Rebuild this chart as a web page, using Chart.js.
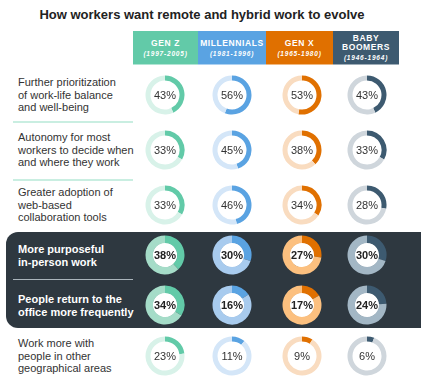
<!DOCTYPE html>
<html>
<head>
<meta charset="utf-8">
<script src="https://cdn.jsdelivr.net/npm/chart.js@4.4.0/dist/chart.umd.min.js"></script>
<style>
  body { margin: 0; width: 421px; height: 385px; background: #fff; font-family: "Liberation Sans", Arial, sans-serif; position: relative; overflow: hidden; }
  .title { position: absolute; top: 7px; left: 0; width: 404px; text-align: center; font-weight: bold; font-size: 13px; color: #222; }
  .head { position: absolute; top: 31px; height: 34px; color: #fff; text-align: center; display: flex; flex-direction: column; justify-content: center; border-bottom: 1px solid rgba(255,255,255,0.5); box-sizing: border-box; }
  .head b { font-size: 8.5px; letter-spacing: 0.6px; line-height: 9px; }
  .head i { font-size: 6.5px; font-weight: bold; letter-spacing: 0.8px; margin-top: 2px; }
  .band { position: absolute; left: 6px; top: 232px; width: 430px; height: 96px; background: #2e3840; border-radius: 12px 0 0 12px; }
  .lbl { position: absolute; left: 18px; width: 118px; font-size: 11px; line-height: 12.5px; color: #333; transform: translateY(-50%); }
  .lbl.dark { color: #fff; font-weight: bold; }
  .sep { position: absolute; left: 13px; width: 120px; height: 1.5px; background: #c9eee1; }
  .sep.dark { background: #aab4bb; height: 1px; }
  .cell { position: absolute; width: 40px; height: 40px; }
  .cell span { position: absolute; left: 0; top: 0; width: 40px; line-height: 40px; text-align: center; font-size: 11px; color: #333; }
  .cell.dark span { font-weight: bold; color: #222; }
</style>
</head>
<body>
<div class="title">How workers want remote and hybrid work to evolve</div>
<div class="band"></div>
<div id="root"></div>
<script>
var categories = [
  'Further prioritization<br>of work-life balance<br>and well-being',
  'Autonomy for most<br>workers to decide when<br>and where they work',
  'Greater adoption of<br>web-based<br>collaboration tools',
  'More purposeful<br>in-person work',
  'People return to the<br>office more frequently',
  'Work more with<br>people in other<br>geographical areas'
];
var generations = ['GEN Z', 'MILLENNIALS', 'GEN X', 'BABY<br>BOOMERS'];
var years = ['(1997-2005)', '(1981-1996)', '(1965-1980)', '(1946-1964)'];
var genZ = [43, 33, 33, 38, 34, 23];
var millennials = [56, 45, 46, 30, 16, 11];
var genX = [53, 38, 34, 27, 17, 9];
var boomers = [43, 33, 28, 30, 24, 6];
var highlighted = [false, false, false, true, true, false];

var series = [genZ, millennials, genX, boomers];
var mainColors = ['#62caa8', '#5aa3e2', '#e07000', '#3d5a70'];
var lightTrack = ['#d8f2e9', '#d4e6f8', '#f9dcc0', '#cfd6dc'];
var darkTrack = ['#a5dcc8', '#a8cbee', '#fcc07f', '#a3b7c5'];

var headX = [133, 198, 266, 333, 399];
var colX = [165, 232, 302, 367];
var rowY = [95, 150, 205, 255, 305, 356];
var sepY = [121, 179, 279];

var root = document.getElementById('root');

generations.forEach(function (g, i) {
  var h = document.createElement('div');
  h.className = 'head';
  h.style.left = headX[i] + 'px';
  h.style.width = (headX[i + 1] - headX[i]) + 'px';
  h.style.background = mainColors[i];
  h.innerHTML = '<b>' + g + '</b><i>' + years[i] + '</i>';
  root.appendChild(h);
});

sepY.forEach(function (y, i) {
  var s = document.createElement('div');
  s.className = 'sep' + (i == 2 ? ' dark' : '');
  s.style.top = y + 'px';
  root.appendChild(s);
});

// white disc behind the hole for the highlighted rows
var holePlugin = {
  id: 'hole',
  beforeDatasetsDraw: function (chart, args, opts) {
    if (!opts.fill) return;
    var arc = chart.getDatasetMeta(0).data[0];
    var c = chart.ctx;
    c.save();
    c.fillStyle = opts.fill;
    c.beginPath();
    c.arc(arc.x, arc.y, arc.innerRadius + 0.5, 0, Math.PI * 2);
    c.fill();
    c.restore();
  }
};

categories.forEach(function (cat, r) {
  var dark = highlighted[r];
  var l = document.createElement('div');
  l.className = 'lbl' + (dark ? ' dark' : '');
  l.style.top = rowY[r] + 'px';
  l.innerHTML = cat;
  root.appendChild(l);

  series.forEach(function (vals, c) {
    var v = vals[r];
    var cell = document.createElement('div');
    cell.className = 'cell' + (dark ? ' dark' : '');
    cell.style.left = (colX[c] - 20) + 'px';
    cell.style.top = (rowY[r] - 20) + 'px';
    var cv = document.createElement('canvas');
    cv.width = 40; cv.height = 40;
    cell.appendChild(cv);
    var sp = document.createElement('span');
    sp.textContent = v + '%';
    cell.appendChild(sp);
    root.appendChild(cell);

    new Chart(cv.getContext('2d'), {
      type: 'doughnut',
      data: {
        labels: ['Yes', 'Other'],
        datasets: [{
          data: [v, 100 - v],
          backgroundColor: [mainColors[c], dark ? darkTrack[c] : lightTrack[c]],
          borderWidth: 0
        }]
      },
      options: {
        responsive: false,
        animation: false,
        cutout: dark ? 12 : 14.5,
        layout: { padding: 0.5 },
        plugins: {
          legend: { display: false },
          tooltip: { enabled: false },
          hole: { fill: dark ? '#ffffff' : null }
        }
      },
      plugins: [holePlugin]
    });
  });
});
</script>
</body>
</html>
